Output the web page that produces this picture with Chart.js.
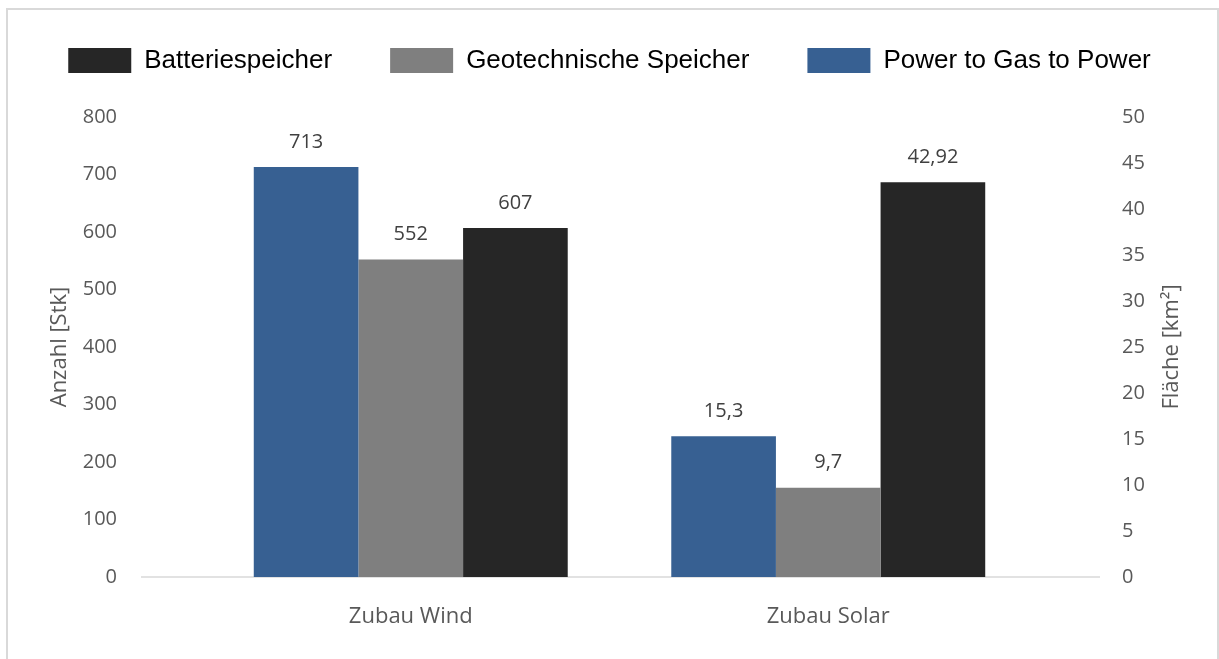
<!DOCTYPE html>
<html>
<head>
<meta charset="utf-8">
<script src="https://cdn.jsdelivr.net/npm/chart.js@4"></script>
<style>
  body { margin: 0; background: #fff; }
  #wrap { position: relative; width: 1219px; height: 659px; overflow: hidden; }
  #frame { position: absolute; left: 6px; top: 8px; width: 1213px; height: 700px;
           box-sizing: border-box; border: 2px solid #d9d9d9; pointer-events: none; }
  canvas { position: absolute; left: 0; top: 0; }
</style>
</head>
<body>
<div id="wrap">
  <div id="frame"></div>
  <canvas id="c" width="1219" height="659"></canvas>
</div>
<script>
// categories and series
const categories = ["Zubau Wind", "Zubau Solar"];
const series = ["Power to Gas to Power", "Geotechnische Speicher", "Batteriespeicher"];
const colors = ["#376092", "#7f7f7f", "#262626"];

// values: wind on left axis (Anzahl), solar on right axis (Fläche)
const windCount = [713, 552, 607];
const solarArea = [15.3, 9.7, 42.92];

// axis ranges
const leftMax = 800, leftStep = 100;
const rightMax = 50, rightStep = 5;

const tickFont = { family: "'Open Sans', sans-serif", size: 20 };
const tickColor = "#595959";

function fmt(v){
    return String(v).replace(".", ",");
}

let datasets = [];
series.forEach((name, i) => {
    datasets.push({
        label: name, data: [windCount[i], null], yAxisID: "y",
        backgroundColor: colors[i], skipNull: true
    });
});
series.forEach((name, i) => {
    datasets.push({
        label: name, data: [null, solarArea[i]], yAxisID: "y1",
        backgroundColor: colors[i], skipNull: true
    });
});

// value labels above bars
const valueLabels = {
    id: "valueLabels",
    afterDatasetsDraw(chart){
        const ctx = chart.ctx;
        ctx.save();
        ctx.font = "20px 'Open Sans', sans-serif";
        ctx.fillStyle = "#404040";
        ctx.textAlign = "center";
        ctx.textBaseline = "middle";
        chart.data.datasets.forEach((ds, di) => {
            chart.getDatasetMeta(di).data.forEach((el, i) => {
                let v = ds.data[i];
                if (v === null) return;
                ctx.fillText(fmt(v), el.x, el.y - 25);
            });
        });
        ctx.restore();
    }
};

// long baseline and right title (reads bottom to top like the left one)
const extras = {
    id: "extras",
    beforeDatasetsDraw(chart){
        const ctx = chart.ctx;
        const y0 = chart.scales.y.getPixelForValue(0);
        ctx.save();
        ctx.strokeStyle = "#d9d9d9";
        ctx.lineWidth = 1.5;
        ctx.beginPath();
        ctx.moveTo(141, y0);
        ctx.lineTo(1100, y0);
        ctx.stroke();
        ctx.restore();
    },
    afterDraw(chart){
        const ctx = chart.ctx;
        const a = chart.chartArea;
        ctx.save();
        ctx.translate(1172, (a.top + a.bottom) / 2);
        ctx.rotate(-Math.PI / 2);
        ctx.font = "22px 'Open Sans', sans-serif";
        ctx.fillStyle = tickColor;
        ctx.textAlign = "center";
        ctx.textBaseline = "middle";
        ctx.fillText("Fläche [km²]", 0, 0);
        ctx.restore();
    }
};

new Chart(document.getElementById("c"), {
    type: "bar",
    data: { labels: categories, datasets: datasets },
    options: {
        responsive: false,
        animation: false,
        categoryPercentage: 0.752,
        barPercentage: 1,
        layout: { padding: { top: -10.5, left: 0, right: 0, bottom: 0 } },
        plugins: {
            legend: {
                position: "top",
                labels: {
                    boxWidth: 63,
                    boxHeight: 25,
                    padding: 58,
                    color: "#000",
                    font: { family: "'Liberation Sans', Arial, sans-serif", size: 26 },
                    filter: (item) => item.datasetIndex < 3,
                    sort: (a, b) => b.datasetIndex - a.datasetIndex
                }
            },
            tooltip: { enabled: false }
        },
        scales: {
            x: {
                grid: { display: false, drawTicks: false },
                border: { display: false },
                ticks: { color: tickColor, padding: 27, font: { family: "'Open Sans', sans-serif", size: 22 } },
                afterFit: (s) => { s.height = 82; }
            },
            // empty top axis, only keeps a gap between legend and plot
            xTop: {
                type: "category",
                position: "top",
                grid: { display: false, drawTicks: false },
                border: { display: false },
                ticks: { display: false },
                afterFit: (s) => { s.height = 33.5; }
            },
            y: {
                position: "left",
                min: 0, max: leftMax,
                grid: { display: false, drawTicks: false },
                border: { display: false },
                ticks: { stepSize: leftStep, color: tickColor, padding: 85, font: tickFont },
                title: {
                    display: true, text: "Anzahl [Stk]", color: tickColor,
                    font: { family: "'Open Sans', sans-serif", size: 22 },
                    padding: { top: 47, bottom: 0 }
                },
                afterFit: (s) => { s.width = 202; s.paddingTop = 0; s.paddingBottom = 0; }
            },
            y1: {
                position: "right",
                min: 0, max: rightMax,
                grid: { display: false, drawTicks: false },
                border: { display: false },
                ticks: { stepSize: rightStep, color: tickColor, padding: 85, font: tickFont },
                afterFit: (s) => { s.width = 182; s.paddingTop = 0; s.paddingBottom = 0; }
            }
        }
    },
    plugins: [valueLabels, extras]
});
</script>
</body>
</html>
